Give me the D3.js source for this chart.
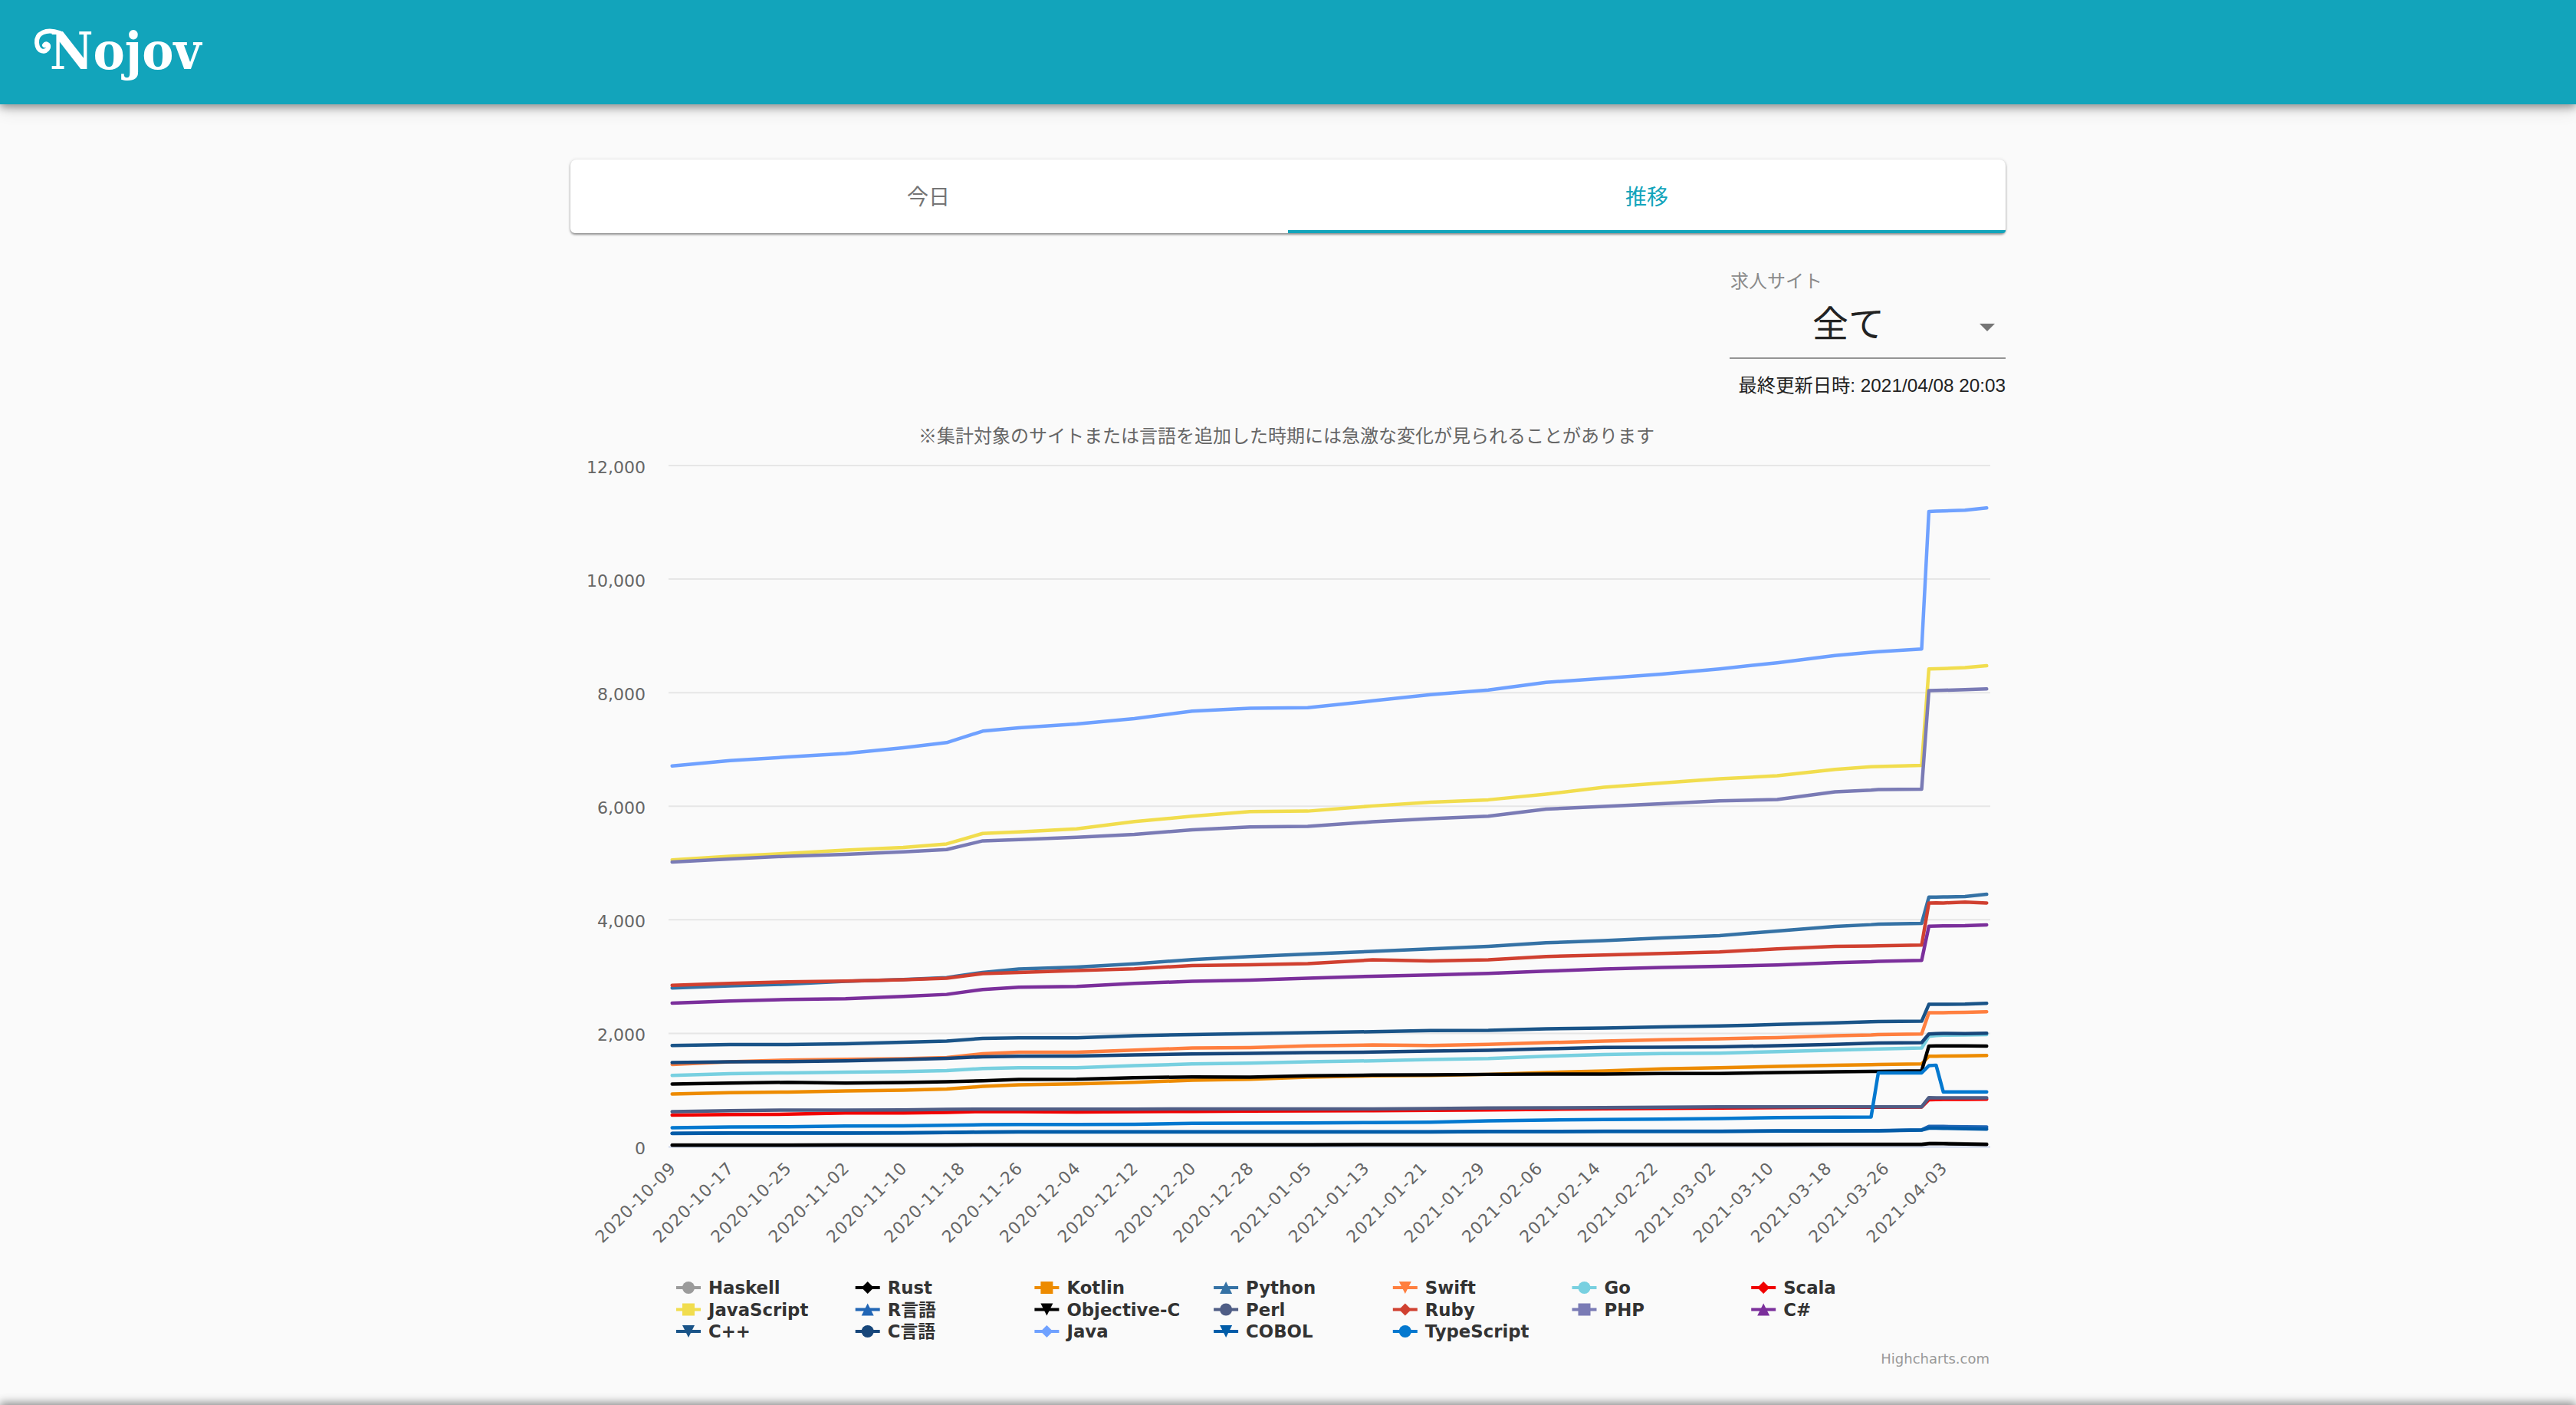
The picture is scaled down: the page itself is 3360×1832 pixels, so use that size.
<!DOCTYPE html>
<html lang="ja">
<head>
<meta charset="utf-8">
<title>Nojov</title>
<script src="https://cdnjs.cloudflare.com/ajax/libs/d3/7.8.5/d3.min.js"></script>
<style>
html,body{margin:0;padding:0;background:#fafafa;width:3360px;height:1832px;overflow:hidden;}
#header{position:absolute;left:0;top:0;width:3360px;height:136px;background:#12a4bb;box-shadow:0 4px 10px rgba(0,0,0,.35),0 8px 20px rgba(0,0,0,.12);z-index:2;}
#card{position:absolute;left:744px;top:208px;width:1872px;height:96px;background:#fff;border-radius:8px 8px 6px 6px;box-shadow:0 2px 3px rgba(0,0,0,.4),0 0 4px rgba(0,0,0,.12);}
#indicator{position:absolute;left:1680px;top:300px;width:936px;height:4px;background:#12a4bb;border-radius:0 0 4px 0;}
#footer{position:absolute;left:0;top:1832px;width:3360px;height:20px;box-shadow:0 -3px 12px rgba(0,0,0,.45);}
svg{position:absolute;left:0;top:0;z-index:3;}
</style>
</head>
<body>
<div id="header"></div>
<div id="card"></div>
<div id="indicator"></div>
<div id="footer"></div>
<svg id="page" width="3360" height="1832" xmlns="http://www.w3.org/2000/svg"></svg>
<script>
const sampleDates = ["2020-10-09","2020-10-17","2020-10-25","2020-11-02","2020-11-10","2020-11-16","2020-11-21","2020-11-26","2020-12-04","2020-12-12","2020-12-20","2020-12-28","2021-01-05","2021-01-14","2021-01-22","2021-01-30","2021-02-07","2021-02-15","2021-02-23","2021-03-03","2021-03-11","2021-03-19","2021-03-24","2021-03-25","2021-03-31","2021-04-01","2021-04-02","2021-04-03","2021-04-06","2021-04-09"];
const tickLabels = ["2020-10-09","2020-10-17","2020-10-25","2020-11-02","2020-11-10","2020-11-18","2020-11-26","2020-12-04","2020-12-12","2020-12-20","2020-12-28","2021-01-05","2021-01-13","2021-01-21","2021-01-29","2021-02-06","2021-02-14","2021-02-22","2021-03-02","2021-03-10","2021-03-18","2021-03-26","2021-04-03"];
const yTicks = [0,2000,4000,6000,8000,10000,12000];

const haskell = [37,38,38,39,40,41,42,43,43,44,44,45,45,46,46,47,47,48,48,49,49,50,51,51,52,66,66,64,58,54];
const rust = [31,32,32,33,34,35,36,37,37,37,38,38,38,39,39,40,40,40,41,42,42,43,44,44,45,58,58,56,50,45];
const kotlin = [931,954,967,985,999,1021,1066,1093,1111,1138,1174,1192,1229,1251,1260,1278,1310,1337,1373,1395,1418,1440,1450,1452,1463,1597,1598,1600,1605,1611];
const python = [2799,2835,2866,2916,2947,2983,3073,3132,3168,3226,3298,3352,3398,3443,3488,3533,3596,3632,3681,3722,3803,3884,3915,3925,3938,4398,4400,4402,4410,4450];
const swift = [1453,1498,1530,1543,1552,1575,1642,1669,1669,1705,1741,1750,1778,1796,1787,1805,1836,1863,1886,1904,1926,1958,1972,1978,1989,2362,2365,2365,2370,2380];
const go = [1260,1291,1305,1318,1327,1345,1381,1395,1395,1431,1462,1476,1499,1517,1539,1557,1598,1629,1643,1652,1679,1706,1722,1725,1742,1948,1962,1968,1972,1980];
const scala = [562,571,576,598,598,607,625,621,616,621,625,630,635,639,644,653,662,671,680,684,693,698,700,700,702,832,835,836,838,841];
const javascript = [5056,5120,5169,5228,5273,5336,5521,5548,5603,5729,5824,5905,5914,6005,6072,6113,6212,6333,6410,6482,6536,6649,6695,6700,6720,8417,8422,8425,8440,8474];
const rLang = [240,245,245,245,250,254,264,268,268,268,268,268,268,268,268,272,272,277,277,277,282,282,287,287,300,362,362,360,355,352];
const objectiveC = [1107,1125,1138,1125,1134,1147,1165,1188,1192,1219,1233,1228,1251,1265,1269,1278,1283,1283,1292,1292,1310,1323,1330,1332,1341,1777,1778,1778,1778,1777];
const perl = [621,639,648,648,652,661,666,666,666,666,670,670,670,670,675,684,689,693,698,707,707,707,707,707,707,868,866,866,865,864];
const ruby = [2848,2880,2907,2920,2943,2970,3051,3073,3105,3136,3195,3208,3227,3294,3276,3294,3353,3380,3407,3434,3488,3533,3540,3542,3555,4296,4298,4296,4313,4296];
const php = [5016,5070,5120,5151,5196,5237,5390,5413,5454,5503,5585,5634,5644,5725,5779,5824,5950,5996,6045,6095,6117,6252,6285,6295,6300,8036,8040,8042,8053,8065];
const csharp = [2533,2570,2596,2610,2650,2686,2772,2812,2826,2880,2916,2938,2970,3006,3029,3056,3096,3132,3159,3182,3204,3245,3262,3270,3285,3887,3890,3892,3895,3910];
const cpp = [1786,1804,1804,1818,1845,1863,1912,1921,1921,1957,1980,1995,2012,2030,2048,2052,2079,2093,2115,2129,2156,2183,2205,2208,2214,2511,2512,2512,2515,2529];
const cLang = [1485,1498,1503,1516,1539,1561,1588,1597,1602,1620,1638,1647,1661,1670,1688,1701,1728,1751,1755,1764,1782,1805,1828,1830,1836,1989,1995,1998,1996,2002];
const java = [6709,6804,6867,6930,7029,7120,7323,7382,7449,7544,7675,7725,7734,7856,7964,8045,8180,8252,8325,8419,8527,8653,8710,8720,8770,11191,11196,11200,11213,11253];
const cobol = [238,243,243,243,247,252,261,265,265,265,265,265,265,265,265,270,270,275,275,275,280,280,285,285,297,330,330,328,320,315];
const typescript = [337,351,355,369,373,382,391,396,396,400,414,418,423,428,437,459,473,482,491,500,518,522,527,1305,1305,1431,1440,968,968,968];

const seriesNames = ["Haskell","Rust","Kotlin","Python","Swift","Go","Scala","JavaScript","R言語","Objective-C","Perl","Ruby","PHP","C#","C++","C言語","Java","COBOL","TypeScript"];
const seriesValues = [haskell,rust,kotlin,python,swift,go,scala,javascript,rLang,objectiveC,perl,ruby,php,csharp,cpp,cLang,java,cobol,typescript];
const seriesColors = ["#9b9b9b","#000000","#ed8b00","#3572a5","#ff7f3f","#78d0e0","#f00000","#f1dd4e","#2166b5","#000000","#4f5d85","#d04030","#7a7bb5","#7b2f9b","#1a5488","#17467a","#6fa1ff","#015ca8","#0378cf"];
const seriesSymbols = ["circle","diamond","square","triangle","down","circle","diamond","square","triangle","down","circle","diamond","square","triangle","down","circle","diamond","down","circle"];

const svg = d3.select("#page");
const jpFont = "'Noto Sans CJK JP','Noto Sans',sans-serif";
const chartFont = "'DejaVu Sans','Noto Sans CJK JP',sans-serif";

/* page chrome */
svg.append("text").attr("transform","translate(65,90) scale(0.91,1)").attr("font-family","'DejaVu Serif',serif").attr("font-weight","bold").attr("font-size",68).attr("fill","#fff").text("Nojov");
svg.append("path").attr("d","M78,43 C60,37 47,43 48,56 C49,68 60,70 63,62 C64,58 60,56 58,59").attr("fill","none").attr("stroke","#fff").attr("stroke-width",6).attr("stroke-linecap","round");
svg.append("text").attr("x",1211).attr("y",267).attr("text-anchor","middle").attr("font-family",jpFont).attr("font-size",28).attr("fill","#757575").text("今日");
svg.append("text").attr("x",2148).attr("y",267).attr("text-anchor","middle").attr("font-family",jpFont).attr("font-size",28).attr("fill","#12a4bb").text("推移");
svg.append("text").attr("x",2257).attr("y",375).attr("font-family",jpFont).attr("font-size",24).attr("fill","#8a8a8a").text("求人サイト");
svg.append("text").attr("x",2411).attr("y",439).attr("text-anchor","middle").attr("font-family",jpFont).attr("font-size",47).attr("fill","#222").text("全て");
svg.append("path").attr("d",d3.line()([[2582,422],[2602,422],[2592,432]])+"Z").attr("fill","#757575");
svg.append("rect").attr("x",2256).attr("y",466).attr("width",360).attr("height",2).attr("fill","#949494");
svg.append("text").attr("x",2616).attr("y",511).attr("text-anchor","end").attr("font-family","'Liberation Sans','Noto Sans CJK JP',sans-serif").attr("font-size",24.3).attr("fill","#222").text("最終更新日時: 2021/04/08 20:03");

/* chart */
const parseDay = d3.utcParse("%Y-%m-%d");
const fmtDay = d3.utcFormat("%Y-%m-%d");
const plot = {left:872,right:2596,top:607,bottom:1495.5};
const halfDay = (plot.right-plot.left)/183/2;
const x = d3.scaleUtc().domain([parseDay("2020-10-09"),parseDay("2021-04-09")]).range([plot.left+halfDay,plot.right-halfDay]);
const y = d3.scaleLinear().domain([0,12000]).range([plot.bottom,plot.top]);

svg.append("text").attr("x",1678).attr("y",577).attr("text-anchor","middle").attr("font-family",jpFont).attr("font-size",24).attr("fill","#666").text("※集計対象のサイトまたは言語を追加した時期には急激な変化が見られることがあります");

const yAxis = svg.append("g").attr("transform",`translate(${plot.left},2)`)
  .call(d3.axisLeft(y).tickValues(yTicks).tickFormat(d3.format(",")).tickSize(0).tickPadding(30));
yAxis.select(".domain").remove();
yAxis.selectAll("text").attr("font-family",chartFont).attr("font-size",22).attr("fill","#666");
svg.append("g").selectAll("line").data(yTicks.filter(d=>d>0)).join("line")
  .attr("x1",plot.left).attr("x2",plot.right).attr("y1",d=>y(d)).attr("y2",d=>y(d)).attr("stroke","#e6e6e6").attr("stroke-width",2);

const xAxis = svg.append("g").attr("transform",`translate(0,${plot.bottom})`)
  .call(d3.axisBottom(x).tickValues(tickLabels.map(parseDay)).tickFormat(fmtDay).tickSize(0));
xAxis.select(".domain").remove();
xAxis.selectAll("text").attr("font-family",chartFont).attr("font-size",22).attr("fill","#666")
  .attr("letter-spacing","1px")
  .attr("text-anchor","end").attr("dy",null).attr("y",0).attr("x",0)
  .attr("transform","translate(6,29) rotate(-45)");
svg.append("line").attr("x1",plot.left).attr("x2",plot.right).attr("y1",plot.bottom).attr("y2",plot.bottom).attr("stroke","#ccd6eb").attr("stroke-width",2);

const dates = sampleDates.map(parseDay);
const line = d3.line().x((d,i)=>x(dates[i])).y(d=>y(d));
svg.append("g").attr("fill","none").attr("stroke-width",4.5).attr("stroke-linejoin","round").attr("stroke-linecap","round")
  .selectAll("path").data(seriesValues).join("path")
  .attr("d",d=>line(d)).attr("stroke",(d,i)=>seriesColors[i]);

/* legend */
const r = 8;
const symbolTypes = {
  circle:{draw(c){c.moveTo(r,0);c.arc(0,0,r,0,Math.PI*2);c.closePath();}},
  square:{draw(c){c.moveTo(-r,-r);c.lineTo(r,-r);c.lineTo(r,r);c.lineTo(-r,r);c.closePath();}},
  diamond:{draw(c){c.moveTo(0,-r);c.lineTo(r,0);c.lineTo(0,r);c.lineTo(-r,0);c.closePath();}},
  triangle:{draw(c){c.moveTo(0,-r);c.lineTo(r,r);c.lineTo(-r,r);c.closePath();}},
  down:{draw(c){c.moveTo(-r,-r);c.lineTo(r,-r);c.lineTo(0,r);c.closePath();}}
};
const legendColumn = d3.scaleLinear().domain([0,1]).range([882,1115.7]);
const legendRow = d3.scaleLinear().domain([0,1]).range([1679,1707.5]);
const legend = svg.append("g").selectAll("g").data(seriesNames).join("g")
  .attr("transform",(d,i)=>`translate(${legendColumn(i%7)},${legendRow(Math.floor(i/7))})`);
legend.append("line").attr("x1",0).attr("x2",32).attr("stroke",(d,i)=>seriesColors[i]).attr("stroke-width",4);
legend.append("path").attr("transform","translate(16,0)")
  .attr("d",(d,i)=>d3.symbol().type(symbolTypes[seriesSymbols[i]])())
  .attr("fill",(d,i)=>seriesColors[i]);
legend.append("text").attr("x",42).attr("y",8).attr("font-family",chartFont).attr("font-weight","bold").attr("font-size",22.8).attr("fill","#333").text(d=>d);

svg.append("text").attr("x",2595).attr("y",1778).attr("text-anchor","end").attr("font-family",chartFont).attr("font-size",18).attr("fill","#999").text("Highcharts.com");
</script>
</body>
</html>
